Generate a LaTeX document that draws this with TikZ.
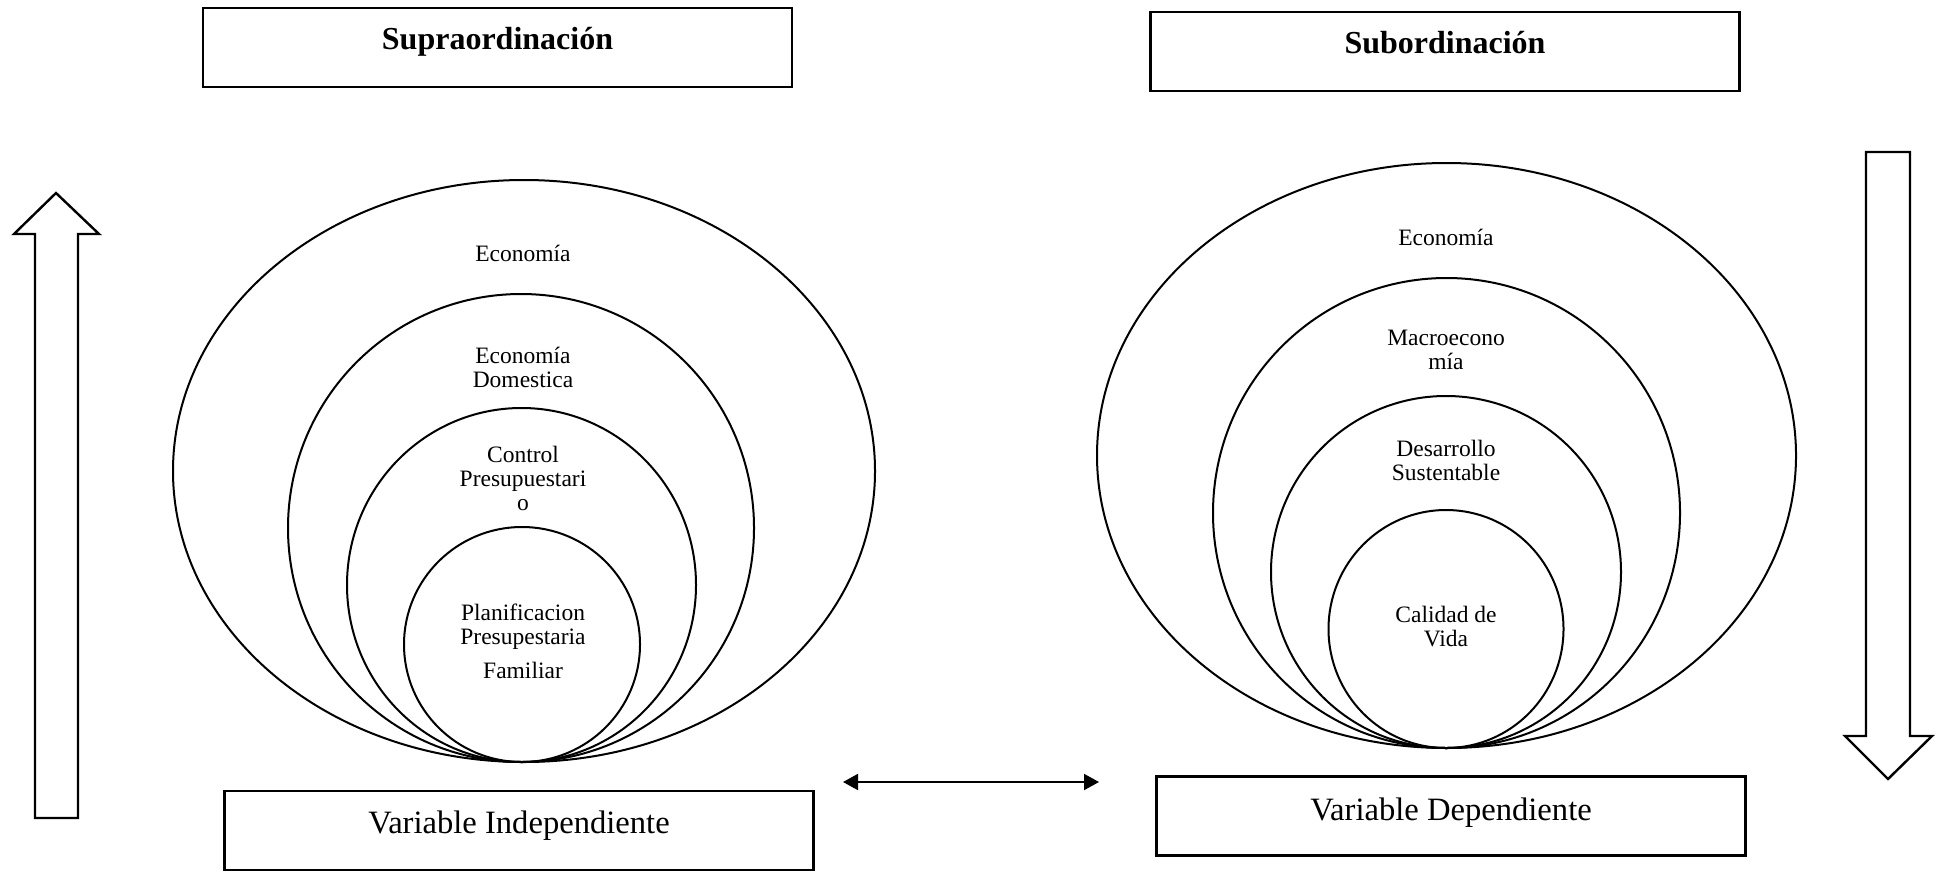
\documentclass[tikz,border=0pt]{standalone}
\usepackage{fontspec}
\setmainfont{Liberation Serif}
\usetikzlibrary{arrows.meta}
\begin{document}
\begin{tikzpicture}[x=0.5pt,y=-0.5pt,line width=1pt,
  box/.style={draw,line width=1.1pt,minimum width=294.5pt,minimum height=39.5pt,inner sep=0pt},
  ttl/.style={font=\fontsize{16}{19}\selectfont\bfseries},
  var/.style={font=\fontsize{16.3}{19}\selectfont},
  lbl/.style={font=\fontsize{11.75}{12}\selectfont,align=center,inner sep=0pt}]
\useasboundingbox (0,0) rectangle (1936,872);
% top boxes
\node[box] (supbox) at (497.5,47.5) {};
\node[ttl] (sup) at (497.5,41.5) {Supraordinación};
\node[box] (subbox) at (1445,51.5) {};
\node[ttl] (sub) at (1445,43) {Subordinación};
% bottom boxes
\node[box] (indbox) at (519,830.5) {};
\node[var] (ind) at (519,825.5) {Variable Independiente};
\node[box] (depbox) at (1451,816) {};
\node[var] (dep) at (1451,812.5) {Variable Dependiente};
% left ellipses
\draw (524,471) ellipse [x radius=351, y radius=291];
\draw (521,528) ellipse [x radius=233, y radius=234];
\draw (521.5,585) ellipse [x radius=174.5, y radius=177];
\draw (522,644.5) ellipse [x radius=118, y radius=117.5];
% right ellipses
\draw (1446.5,455.5) ellipse [x radius=349.5, y radius=292.5];
\draw (1446.5,513) ellipse [x radius=233.5, y radius=235];
\draw (1446,572) ellipse [x radius=175, y radius=176];
\draw (1446,629) ellipse [x radius=117.5, y radius=119];
% left labels
\node[lbl] (l1) at (523,253) {Economía};
\node[lbl] (l2) at (523,367) {Economía\\Domestica};
\node[lbl] (l3) at (523,478) {Control\\Presupuestari\\o};
\node[lbl] (l4) at (523,641) {Planificacion\\Presupestaria\\[5pt]Familiar};
% right labels
\node[lbl] (r1) at (1446,237) {Economía};
\node[lbl] (r2) at (1446,350) {Macroecono\\mía};
\node[lbl] (r3) at (1446,460) {Desarrollo\\Sustentable};
\node[lbl] (r4) at (1446,627) {Calidad de\\Vida};
% double arrow
\coordinate (da) at (843,782);
\coordinate (db) at (1099,782);
\draw[{Triangle[length=7.5pt,width=8pt]}-{Triangle[length=7.5pt,width=8pt]}] (da) -- (db);
% block arrows
\draw[line width=1.2pt,line join=miter] (35,818) -- (35,234) -- (14,234) -- (56,193) -- (99,234) -- (78,234) -- (78,818) -- cycle;
\draw[line width=1.2pt,line join=miter] (1866,152) -- (1866,736) -- (1845,736) -- (1888,779) -- (1932,736) -- (1910,736) -- (1910,152) -- cycle;
\end{tikzpicture}
\end{document}
